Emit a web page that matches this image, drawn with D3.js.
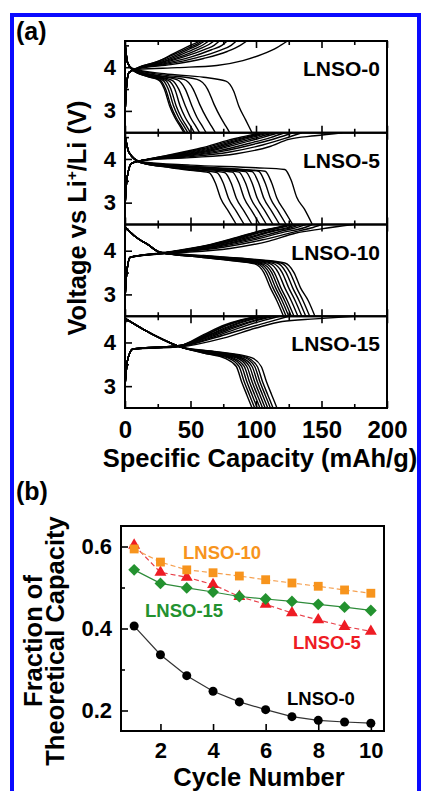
<!DOCTYPE html>
<html>
<head>
<meta charset="utf-8">
<script src="https://cdn.jsdelivr.net/npm/d3@7"></script>
<style>
body { margin: 0; background: #fff; }
svg { display: block; font-family: "Liberation Sans", Arial, sans-serif; font-weight: bold; }
.frame { fill: none; stroke: #000; stroke-width: 2; }
.tick line { stroke: #000; stroke-width: 1.6; }
.curve { fill: none; stroke: #000; stroke-width: 1.4; }
</style>
</head>
<body>
<svg id="viz" width="421" height="791"></svg>
<script>
"use strict";

// ---- panel (a): voltage profiles, [capacity mAh/g, voltage V] ----
const capTicks = [0, 50, 100, 150, 200];
const capMinor = [25, 75, 125, 175];
const voltTicks = [3, 4];
const voltMinor = [3.5, 4.5];
const cellNames = ["LNSO-0", "LNSO-5", "LNSO-10", "LNSO-15"];

const chargeLNSO0 = [
  [[0,2.9],[1,3.5],[3,3.88],[10,3.95],[40,3.99],[70,4.04],[90,4.15],[105,4.3],[116,4.45],[124,4.6]],
  [[0,2.9],[1,3.5],[3,3.88],[10,3.97],[35,4.06],[60,4.2],[78,4.36],[88,4.5],[93,4.6]],
  [[0,2.9],[1,3.5],[3,3.88],[10,3.97],[32,4.07],[55,4.22],[72,4.38],[81,4.5],[85,4.6]],
  [[0,2.9],[1,3.5],[3,3.88],[10,3.97],[30,4.08],[50,4.23],[66,4.4],[74,4.5],[78,4.6]],
  [[0,2.9],[1,3.5],[3,3.88],[10,3.98],[28,4.09],[46,4.25],[61,4.41],[68,4.5],[72,4.6]],
  [[0,2.9],[1,3.5],[3,3.88],[10,3.98],[27,4.1],[44,4.26],[57,4.42],[64,4.52],[68,4.6]],
  [[0,2.9],[1,3.5],[3,3.88],[10,3.98],[26,4.1],[42,4.28],[54,4.43],[60,4.52],[64,4.6]],
  [[0,2.9],[1,3.5],[3,3.88],[10,3.98],[25,4.11],[40,4.29],[51,4.44],[57,4.53],[61,4.6]],
  [[0,2.9],[1,3.5],[3,3.88],[10,3.99],[24,4.12],[38,4.3],[49,4.45],[55,4.53],[59,4.6]],
  [[0,2.9],[1,3.5],[3,3.88],[10,3.99],[24,4.12],[37,4.31],[47,4.46],[53,4.54],[57,4.6]]
];
const dischargeLNSO0 = [
  [[0,4.55],[2,4.1],[6,3.97],[30,3.85],[60,3.77],[77,3.68],[83,3.45],[87,3.1],[92,2.8],[97,2.5]],
  [[0,4.55],[2,4.1],[6,3.96],[30,3.82],[55,3.72],[63,3.5],[68,3.15],[73,2.85],[77,2.65],[80,2.5]],
  [[0,4.55],[2,4.1],[6,3.95],[25,3.81],[45,3.72],[52,3.5],[57,3.15],[62,2.85],[66,2.65],[69,2.5]],
  [[0,4.55],[2,4.1],[6,3.95],[25,3.8],[40,3.71],[46,3.5],[51,3.12],[55,2.85],[59,2.65],[62,2.5]],
  [[0,4.55],[2,4.1],[6,3.94],[22,3.8],[36,3.7],[41,3.5],[46,3.12],[50,2.85],[54,2.65],[57,2.5]],
  [[0,4.55],[2,4.1],[6,3.94],[20,3.8],[33,3.7],[38,3.5],[42,3.12],[46,2.85],[50,2.65],[53,2.5]],
  [[0,4.55],[2,4.1],[6,3.94],[20,3.79],[31,3.7],[35,3.5],[39,3.12],[43,2.85],[47,2.65],[50,2.5]],
  [[0,4.55],[2,4.1],[6,3.93],[20,3.78],[29,3.7],[33,3.5],[37,3.12],[41,2.85],[45,2.65],[48,2.5]],
  [[0,4.55],[2,4.1],[6,3.93],[18,3.78],[27,3.7],[31,3.5],[35,3.12],[39,2.85],[43,2.65],[46,2.5]],
  [[0,4.55],[2,4.1],[6,3.93],[18,3.78],[26,3.7],[30,3.5],[34,3.12],[38,2.85],[42,2.65],[45,2.5]]
];

const chargeLNSO5 = [
  [[0,2.9],[1.5,3.55],[5,3.9],[14,3.97],[50,4.03],[85,4.12],[110,4.28],[125,4.45],[145,4.53],[166,4.6]],
  [[0,2.9],[1.5,3.55],[5,3.9],[14,3.97],[45,4.04],[80,4.16],[105,4.32],[122,4.47],[135,4.6]],
  [[0,2.9],[1.5,3.55],[5,3.9],[14,3.97],[42,4.05],[75,4.18],[100,4.35],[116,4.48],[128,4.6]],
  [[0,2.9],[1.5,3.55],[5,3.9],[14,3.97],[40,4.05],[72,4.19],[95,4.36],[111,4.49],[122,4.6]],
  [[0,2.9],[1.5,3.55],[5,3.9],[14,3.97],[38,4.06],[68,4.2],[91,4.38],[106,4.5],[117,4.6]],
  [[0,2.9],[1.5,3.55],[5,3.9],[14,3.97],[36,4.06],[66,4.21],[88,4.39],[102,4.5],[113,4.6]],
  [[0,2.9],[1.5,3.55],[5,3.9],[14,3.97],[35,4.07],[64,4.22],[85,4.4],[99,4.51],[110,4.6]],
  [[0,2.9],[1.5,3.55],[5,3.9],[14,3.97],[34,4.07],[62,4.23],[83,4.41],[97,4.52],[107,4.6]],
  [[0,2.9],[1.5,3.55],[5,3.9],[14,3.97],[33,4.08],[60,4.24],[81,4.42],[95,4.52],[105,4.6]],
  [[0,2.9],[1.5,3.55],[5,3.9],[14,3.97],[32,4.08],[58,4.25],[79,4.43],[93,4.53],[103,4.6]]
];
const dischargeLNSO5 = [
  [[0,4.55],[3,4.15],[12,3.94],[50,3.86],[100,3.8],[122,3.76],[127,3.5],[131,3.13],[137,2.85],[143,2.5]],
  [[0,4.55],[3,4.15],[12,3.93],[45,3.84],[90,3.76],[107,3.72],[112,3.45],[116,3.1],[122,2.8],[128,2.5]],
  [[0,4.55],[3,4.15],[12,3.93],[45,3.84],[85,3.76],[102,3.72],[107,3.45],[111,3.1],[117,2.8],[123,2.5]],
  [[0,4.55],[3,4.15],[12,3.93],[40,3.83],[80,3.75],[97,3.71],[102,3.45],[106,3.1],[112,2.8],[118,2.5]],
  [[0,4.55],[3,4.15],[12,3.93],[40,3.83],[75,3.75],[92,3.71],[97,3.45],[101,3.1],[107,2.8],[113,2.5]],
  [[0,4.55],[3,4.15],[12,3.92],[40,3.82],[70,3.75],[87,3.7],[92,3.45],[96,3.1],[102,2.8],[108,2.5]],
  [[0,4.55],[3,4.15],[12,3.92],[40,3.82],[65,3.75],[82,3.7],[87,3.45],[91,3.1],[97,2.8],[103,2.5]],
  [[0,4.55],[3,4.15],[12,3.92],[35,3.81],[60,3.74],[76,3.69],[81,3.45],[85,3.1],[91,2.8],[97,2.5]],
  [[0,4.55],[3,4.15],[12,3.92],[35,3.81],[55,3.74],[70,3.69],[75,3.45],[79,3.1],[85,2.8],[91,2.5]],
  [[0,4.55],[3,4.15],[12,3.92],[35,3.8],[50,3.74],[64,3.69],[69,3.45],[73,3.1],[79,2.8],[85,2.5]]
];

const chargeLNSO10 = [
  [[0,2.9],[1.5,3.55],[4,3.85],[30,3.93],[80,4.05],[110,4.22],[130,4.4],[150,4.5],[174,4.6]],
  [[0,2.9],[1.5,3.55],[4,3.85],[30,3.94],[75,4.08],[105,4.25],[128,4.42],[142,4.52],[150,4.6]],
  [[0,2.9],[1.5,3.55],[4,3.85],[30,3.94],[72,4.09],[100,4.26],[122,4.43],[136,4.52],[143,4.6]],
  [[0,2.9],[1.5,3.55],[4,3.85],[30,3.94],[70,4.1],[97,4.27],[118,4.44],[131,4.53],[138,4.6]],
  [[0,2.9],[1.5,3.55],[4,3.85],[30,3.95],[68,4.1],[94,4.28],[114,4.45],[127,4.53],[134,4.6]],
  [[0,2.9],[1.5,3.55],[4,3.85],[30,3.95],[66,4.11],[92,4.29],[112,4.45],[124,4.53],[131,4.6]],
  [[0,2.9],[1.5,3.55],[4,3.85],[30,3.95],[65,4.11],[90,4.3],[109,4.46],[121,4.54],[128,4.6]],
  [[0,2.9],[1.5,3.55],[4,3.85],[30,3.95],[64,4.12],[88,4.3],[107,4.46],[119,4.54],[126,4.6]],
  [[0,2.9],[1.5,3.55],[4,3.85],[30,3.95],[63,4.12],[87,4.31],[106,4.47],[118,4.54],[125,4.6]],
  [[0,2.9],[1.5,3.55],[4,3.85],[30,3.96],[62,4.12],[86,4.31],[105,4.47],[117,4.54],[124,4.6]]
];
const dischargeLNSO10 = [
  [[0,4.55],[8,4.32],[17,4.15],[27,3.97],[60,3.89],[100,3.8],[122,3.72],[129,3.5],[134,3.15],[140,2.85],[145,2.5]],
  [[0,4.55],[8,4.32],[17,4.15],[27,3.96],[60,3.88],[100,3.79],[119,3.72],[126,3.5],[131,3.15],[136,2.85],[141,2.5]],
  [[0,4.55],[8,4.32],[17,4.15],[27,3.96],[55,3.88],[97,3.79],[116,3.72],[123,3.5],[128,3.15],[133,2.85],[138,2.5]],
  [[0,4.55],[8,4.32],[17,4.15],[27,3.96],[55,3.88],[95,3.79],[113,3.71],[120,3.5],[125,3.15],[130,2.85],[135,2.5]],
  [[0,4.55],[8,4.32],[17,4.15],[27,3.96],[55,3.88],[92,3.78],[110,3.71],[117,3.5],[122,3.15],[127,2.85],[132,2.5]],
  [[0,4.55],[8,4.32],[17,4.15],[27,3.96],[55,3.87],[90,3.78],[107,3.71],[114,3.5],[119,3.15],[124,2.85],[129,2.5]],
  [[0,4.55],[8,4.32],[17,4.15],[27,3.96],[55,3.87],[88,3.78],[105,3.7],[112,3.5],[117,3.15],[122,2.85],[127,2.5]],
  [[0,4.55],[8,4.32],[17,4.15],[27,3.96],[55,3.87],[86,3.77],[103,3.7],[110,3.5],[115,3.15],[120,2.85],[125,2.5]],
  [[0,4.55],[8,4.32],[17,4.15],[27,3.96],[55,3.86],[84,3.77],[101,3.7],[108,3.5],[113,3.15],[118,2.85],[123,2.5]],
  [[0,4.55],[8,4.32],[17,4.15],[27,3.96],[55,3.86],[82,3.77],[99,3.7],[106,3.5],[111,3.15],[116,2.85],[121,2.5]]
];

const chargeLNSO15 = [
  [[0,3.0],[2,3.6],[6,3.85],[42,3.9],[75,4.1],[100,4.33],[120,4.48],[145,4.54],[175,4.6]],
  [[0,3.0],[2,3.6],[6,3.85],[42,3.91],[70,4.12],[92,4.32],[110,4.47],[125,4.6]],
  [[0,3.0],[2,3.6],[6,3.85],[42,3.91],[68,4.13],[88,4.34],[104,4.49],[118,4.6]],
  [[0,3.0],[2,3.6],[6,3.85],[42,3.92],[66,4.14],[85,4.35],[100,4.5],[114,4.6]],
  [[0,3.0],[2,3.6],[6,3.85],[42,3.92],[65,4.15],[83,4.36],[98,4.5],[111,4.6]],
  [[0,3.0],[2,3.6],[6,3.85],[42,3.92],[64,4.16],[81,4.37],[95,4.51],[108,4.6]],
  [[0,3.0],[2,3.6],[6,3.85],[42,3.93],[63,4.16],[80,4.38],[93,4.51],[106,4.6]],
  [[0,3.0],[2,3.6],[6,3.85],[42,3.93],[62,4.17],[78,4.39],[91,4.52],[104,4.6]],
  [[0,3.0],[2,3.6],[6,3.85],[42,3.93],[61,4.17],[77,4.39],[90,4.52],[103,4.6]],
  [[0,3.0],[2,3.6],[6,3.85],[42,3.93],[60,4.18],[76,4.4],[89,4.52],[102,4.6]]
];
const dischargeLNSO15 = [
  [[0,4.55],[14,4.3],[28,4.08],[42,3.9],[70,3.79],[96,3.66],[104,3.45],[108,3.1],[112,2.8],[116,2.5]],
  [[0,4.55],[14,4.3],[28,4.08],[42,3.9],[68,3.79],[93,3.66],[101,3.45],[105,3.1],[109,2.8],[113,2.5]],
  [[0,4.55],[14,4.3],[28,4.08],[42,3.9],[66,3.78],[91,3.66],[99,3.45],[103,3.1],[107,2.8],[111,2.5]],
  [[0,4.55],[14,4.3],[28,4.08],[42,3.9],[65,3.78],[89,3.65],[97,3.45],[101,3.1],[105,2.8],[109,2.5]],
  [[0,4.55],[14,4.3],[28,4.08],[42,3.9],[64,3.78],[87,3.65],[95,3.45],[99,3.1],[103,2.8],[107,2.5]],
  [[0,4.55],[14,4.3],[28,4.08],[42,3.9],[63,3.77],[85,3.65],[93,3.45],[97,3.1],[101,2.8],[105,2.5]],
  [[0,4.55],[14,4.3],[28,4.08],[42,3.9],[62,3.77],[83,3.64],[91,3.45],[95,3.1],[99,2.8],[103,2.5]],
  [[0,4.55],[14,4.3],[28,4.08],[42,3.9],[61,3.77],[81,3.64],[89,3.45],[93,3.1],[97,2.8],[101,2.5]],
  [[0,4.55],[14,4.3],[28,4.08],[42,3.9],[60,3.76],[79,3.64],[87,3.45],[91,3.1],[95,2.8],[99,2.5]],
  [[0,4.55],[14,4.3],[28,4.08],[42,3.9],[60,3.76],[77,3.63],[85,3.45],[89,3.1],[93,2.8],[97,2.5]]
];

// ---- panel (b): fraction of theoretical capacity vs cycle ----
const cycles = [1, 2, 3, 4, 5, 6, 7, 8, 9, 10];
const fracLNSO0 = [0.406, 0.336, 0.285, 0.247, 0.221, 0.202, 0.185, 0.176, 0.172, 0.169];
const fracLNSO5 = [0.603, 0.537, 0.525, 0.507, 0.478, 0.459, 0.438, 0.421, 0.405, 0.393];
const fracLNSO10 = [0.594, 0.562, 0.543, 0.536, 0.528, 0.519, 0.511, 0.503, 0.494, 0.486];
const fracLNSO15 = [0.543, 0.510, 0.499, 0.489, 0.478, 0.472, 0.466, 0.459, 0.452, 0.444];
const fracTicks = [0.2, 0.4, 0.6];
const fracMinor = [0.3, 0.5];
const cycleTicks = [2, 4, 6, 8, 10];

let svg = d3.select("#viz");

// blue outer border
svg.append("rect")
    .attr("x", 12).attr("y", 15)
    .attr("width", 407).attr("height", 790)
    .attr("fill", "none")
    .attr("stroke", "#0a0aff")
    .attr("stroke-width", 4);

function cleanAxis(g, size) {
    g.attr("font-family", null).attr("font-size", null);
    g.select(".domain").remove();
    g.selectAll("text").attr("font-size", size).attr("fill", "#000");
}

// ---------------- panel (a) ----------------
let pa = { left: 125, right: 387, top: 41, bottom: 408 };
let rowH = (pa.bottom - pa.top) / 4;
let xCap = d3.scaleLinear().domain([0, 200]).range([pa.left, pa.right]);
let profiles = [
    { name: cellNames[0], charge: chargeLNSO0, discharge: dischargeLNSO0 },
    { name: cellNames[1], charge: chargeLNSO5, discharge: dischargeLNSO5 },
    { name: cellNames[2], charge: chargeLNSO10, discharge: dischargeLNSO10 },
    { name: cellNames[3], charge: chargeLNSO15, discharge: dischargeLNSO15 }
];

profiles.forEach((p, i) => {
    let top = pa.top + i * rowH, bot = top + rowH;
    let yV = d3.scaleLinear().domain([2.5, 4.6]).range([bot, top]);
    let line = d3.line()
        .x((d) => { return xCap(d[0]); })
        .y((d) => { return yV(d[1]); })
        .curve(d3.curveMonotoneX);

    svg.append("clipPath").attr("id", `clip${i}`)
        .append("rect")
        .attr("x", pa.left).attr("y", top)
        .attr("width", pa.right - pa.left).attr("height", rowH);

    let g = svg.append("g").attr("clip-path", `url(#clip${i})`);
    g.selectAll(".dis")
        .data(p.discharge)
        .enter().append("path")
        .attr("class", "curve")
        .attr("d", line);
    g.selectAll(".chg")
        .data(p.charge)
        .enter().append("path")
        .attr("class", "curve")
        .attr("d", line);

    // inward ticks: bottom (up), top (down), left (right)
    svg.append("g")
        .attr("transform", `translate(0, ${bot})`)
        .call(d3.axisBottom(xCap).tickValues(capTicks).tickSizeInner(-7).tickSizeOuter(0)
            .tickPadding(13).tickFormat(i === 3 ? d3.format("d") : ""))
        .call(cleanAxis, 24);
    svg.append("g")
        .attr("transform", `translate(0, ${bot})`)
        .call(d3.axisBottom(xCap).tickValues(capMinor).tickSizeInner(-4).tickSizeOuter(0).tickFormat(""))
        .call(cleanAxis, 24);
    svg.append("g")
        .attr("transform", `translate(0, ${top})`)
        .call(d3.axisTop(xCap).tickValues(capTicks).tickSizeInner(-7).tickSizeOuter(0).tickFormat(""))
        .call(cleanAxis, 24);
    svg.append("g")
        .attr("transform", `translate(0, ${top})`)
        .call(d3.axisTop(xCap).tickValues(capMinor).tickSizeInner(-4).tickSizeOuter(0).tickFormat(""))
        .call(cleanAxis, 24);
    svg.append("g")
        .attr("transform", `translate(${pa.left}, 0)`)
        .call(d3.axisLeft(yV).tickValues(voltTicks).tickSizeInner(-7).tickSizeOuter(0)
            .tickPadding(9).tickFormat(d3.format("d")))
        .call(cleanAxis, 22);
    svg.append("g")
        .attr("transform", `translate(${pa.left}, 0)`)
        .call(d3.axisLeft(yV).tickValues(voltMinor).tickSizeInner(-4).tickSizeOuter(0).tickFormat(""))
        .call(cleanAxis, 22);

    svg.append("rect")
        .attr("class", "frame")
        .attr("x", pa.left).attr("y", top)
        .attr("width", pa.right - pa.left).attr("height", rowH);

    svg.append("text")
        .attr("x", 380)
        .attr("y", top + 35)
        .attr("text-anchor", "end")
        .attr("font-size", 21)
        .text(p.name);
});

svg.append("text")
    .attr("x", 16).attr("y", 40)
    .attr("font-size", 25)
    .text("(a)");

svg.append("text")
    .attr("x", 260).attr("y", 467)
    .attr("text-anchor", "middle")
    .attr("font-size", 25.5)
    .text("Specific Capacity (mAh/g)");

let yLabelA = svg.append("text")
    .attr("transform", "translate(86, 218) rotate(-90)")
    .attr("text-anchor", "middle")
    .attr("font-size", 25.5);
yLabelA.append("tspan").text("Voltage vs Li");
yLabelA.append("tspan").attr("dy", -9).attr("font-size", 15).text("+");
yLabelA.append("tspan").attr("dy", 9).text("/Li (V)");

// ---------------- panel (b) ----------------
let pb = { left: 121, right: 384, top: 526, bottom: 731 };
let xCyc = d3.scaleLinear().domain([0.5, 10.5]).range([pb.left, pb.right]);
let yFrac = d3.scaleLinear().domain([0.15, 0.65]).range([pb.bottom, pb.top]);

svg.append("text")
    .attr("x", 16).attr("y", 500)
    .attr("font-size", 25)
    .text("(b)");

svg.append("g")
    .attr("transform", `translate(0, ${pb.bottom})`)
    .call(d3.axisBottom(xCyc).tickValues(cycleTicks).tickSizeInner(-7).tickSizeOuter(0)
        .tickPadding(11).tickFormat(d3.format("d")))
    .call(cleanAxis, 22);
svg.append("g")
    .attr("transform", `translate(${pb.left}, 0)`)
    .call(d3.axisLeft(yFrac).tickValues(fracTicks).tickSizeInner(-7).tickSizeOuter(0)
        .tickPadding(9).tickFormat(d3.format(".1f")))
    .call(cleanAxis, 22);
svg.append("g")
    .attr("transform", `translate(${pb.left}, 0)`)
    .call(d3.axisLeft(yFrac).tickValues(fracMinor).tickSizeInner(-4).tickSizeOuter(0).tickFormat(""))
    .call(cleanAxis, 22);

let series = [
    { name: "LNSO-0", values: fracLNSO0, color: "#000000", line: "#333", dash: null, symbol: d3.symbolCircle, size: 64, rot: 0 },
    { name: "LNSO-5", values: fracLNSO5, color: "#ee1c24", line: "#e8404a", dash: "5,3", symbol: d3.symbolTriangle, size: 62, rot: 0 },
    { name: "LNSO-15", values: fracLNSO15, color: "#23922f", line: "#2e8b3a", dash: null, symbol: d3.symbolSquare, size: 70, rot: 45 },
    { name: "LNSO-10", values: fracLNSO10, color: "#f7941d", line: "#f5a050", dash: "5,3", symbol: d3.symbolSquare, size: 78, rot: 0 }
];

let fracLine = d3.line()
    .x((d) => { return xCyc(d[0]); })
    .y((d) => { return yFrac(d[1]); });

series.forEach((s) => {
    let pts = cycles.map((c, i) => { return [c, s.values[i]]; });
    svg.append("path")
        .attr("d", fracLine(pts))
        .attr("fill", "none")
        .attr("stroke", s.line)
        .attr("stroke-width", 1.2)
        .attr("stroke-dasharray", s.dash);
    svg.selectAll(null)
        .data(pts)
        .enter().append("path")
        .attr("d", d3.symbol().type(s.symbol).size(s.size))
        .attr("transform", (d) => { return `translate(${xCyc(d[0])}, ${yFrac(d[1])}) rotate(${s.rot})`; })
        .attr("fill", s.color);
});

svg.append("rect")
    .attr("class", "frame")
    .attr("x", pb.left).attr("y", pb.top)
    .attr("width", pb.right - pb.left).attr("height", pb.bottom - pb.top);

let bLabels = [
    { text: "LNSO-10", x: 183, y: 559, color: "#f7941d" },
    { text: "LNSO-15", x: 145, y: 617, color: "#23922f" },
    { text: "LNSO-5", x: 293, y: 649, color: "#ee1c24" },
    { text: "LNSO-0", x: 287, y: 705, color: "#000000" }
];
svg.selectAll(".blabel")
    .data(bLabels)
    .enter().append("text")
    .attr("x", (d) => { return d.x; })
    .attr("y", (d) => { return d.y; })
    .attr("font-size", 18.5)
    .attr("fill", (d) => { return d.color; })
    .text((d) => { return d.text; });

svg.append("text")
    .attr("x", 259).attr("y", 786)
    .attr("text-anchor", "middle")
    .attr("font-size", 25.5)
    .text("Cycle Number");

svg.append("text")
    .attr("transform", "translate(42, 641) rotate(-90)")
    .attr("text-anchor", "middle")
    .attr("font-size", 25.5)
    .text("Fraction of");
svg.append("text")
    .attr("transform", "translate(64, 641) rotate(-90)")
    .attr("text-anchor", "middle")
    .attr("font-size", 25.5)
    .text("Theoretical Capacity");
</script>
</body>
</html>
